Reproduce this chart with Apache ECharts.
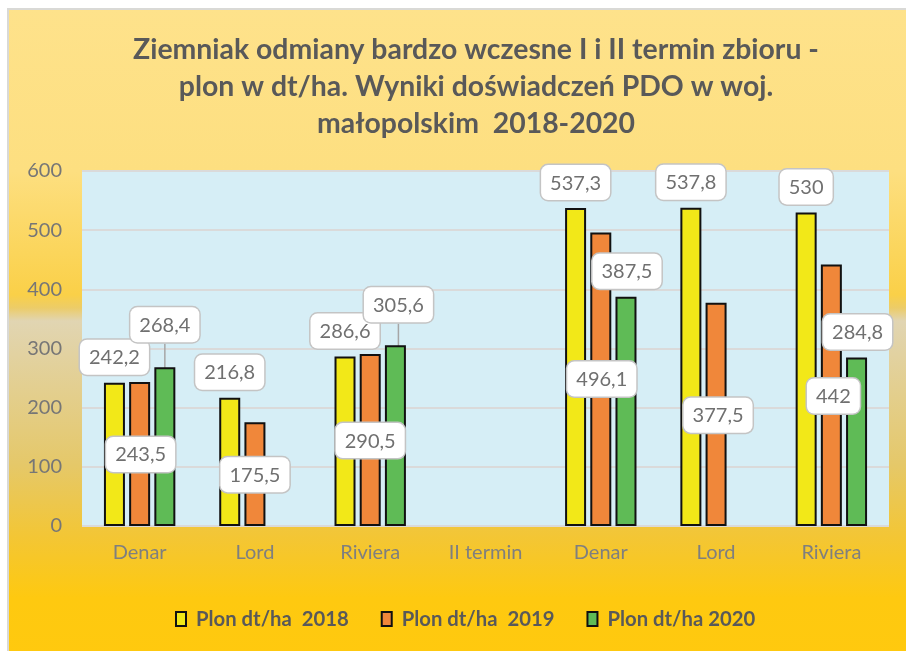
<!DOCTYPE html>
<html>
<head>
<meta charset="utf-8">
<script src="https://cdn.jsdelivr.net/npm/echarts@6/dist/echarts.min.js"></script>
<style>
  html, body { margin: 0; padding: 0; background: #fff; }
  #chart { width: 906px; height: 651px; }
</style>
</head>
<body>
<div id="chart"></div>
<script>
var categories = ['Denar', 'Lord', 'Riviera', 'II termin', 'Denar', 'Lord', 'Riviera'];
var plon2018 = [242.2, 216.8, 286.6, null, 537.3, 537.8, 530];
var plon2019 = [243.5, 175.5, 290.5, null, 496.1, 377.5, 442];
var plon2020 = [268.4, null, 305.6, null, 387.5, null, 284.8];
var seriesNames = ['Plon dt/ha  2018', 'Plon dt/ha  2019', 'Plon dt/ha 2020'];
var yTicks = [0, 100, 200, 300, 400, 500, 600];

// where Excel dragged the labels (pixels, relative to default "top" spot)
var labelShift = [
    [[0, 0], [0, 0], [0, 0], [0, 0], [0, 0], [0, 0], [0, 0]],
    [[1, 98], [0, 78], [0, 112], [0, 0], [1, 172], [2, 138], [2, 157]],
    [[0, -17], [0, 0], [3, -15], [0, 0], [1, 0], [0, 0], [1, 0]]
];
var withLeader = [[], [], [0, 2]];

var colors = ['#F2E818', '#F0873A', '#5FBB56'];
var font = 'Lato, Carlito, "Open Sans", sans-serif';

function fmt(p) {
    return String(p.value).replace('.', ',');
}

var chart = echarts.init(document.getElementById('chart'));

var series = [plon2018, plon2019, plon2020].map(function (vals, si) {
    return {
        name: seriesNames[si],
        type: 'bar',
        barWidth: 21,
        barGap: '20%',
        itemStyle: { color: colors[si], borderColor: '#111', borderWidth: 2 },
        label: {
            show: true,
            position: 'top',
            distance: 8,
            formatter: fmt,
            color: '#707070',
            fontSize: 20,
            fontFamily: font,
            backgroundColor: '#fff',
            borderColor: '#C4C4C4',
            borderWidth: 1.5,
            borderRadius: 7,
            padding: [8, 9, 7, 9]
        },
        labelLine: { show: withLeader[si].length > 0, lineStyle: { color: '#A6A6A6', width: 1.5 } },
        labelLayout: function (p) {
            var s = labelShift[si][p.dataIndex];
            return { dx: s[0], dy: s[1] };
        },
        data: vals.map(function (v, i) {
            return {
                value: v,
                labelLine: { show: withLeader[si].indexOf(i) >= 0 }
            };
        })
    };
});

chart.setOption({
    animation: false,
    graphic: [{
        type: 'rect',
        z: -10,
        shape: { x: 8, y: 9, width: 910, height: 650 },
        style: {
            stroke: '#D9D9D6',
            lineWidth: 2,
            fill: new echarts.graphic.LinearGradient(0, 0, 0, 1, [
                { offset: 0, color: '#FEE28B' },
                { offset: 0.25, color: '#FDDF80' },
                { offset: 0.44, color: '#FAD048' },
                { offset: 0.46, color: '#ECCC68' },
                { offset: 0.48, color: '#E1D5B2' },
                { offset: 0.70, color: '#E5C869' },
                { offset: 0.81, color: '#F3C635' },
                { offset: 0.905, color: '#FEC910' },
                { offset: 1, color: '#FFC90E' }
            ])
        }
    }],
    title: {
        text: 'Ziemniak odmiany bardzo wczesne I i II termin zbioru -\nplon w dt/ha. Wyniki doświadczeń PDO w woj.\nmałopolskim  2018-2020',
        left: 471,
        top: 26,
        textAlign: 'center',
        textStyle: {
            fontFamily: font,
            fontWeight: 'bold',
            fontSize: 28.4,
            lineHeight: 37,
            color: '#595959'
        }
    },
    legend: {
        left: 170,
        top: 604,
        itemWidth: 10,
        itemHeight: 14,
        itemGap: 32,
        icon: 'rect',
        textStyle: {
            fontFamily: font,
            fontWeight: 'bold',
            fontSize: 20.3,
            color: '#595959',
            padding: [0, 0, 0, 5]
        }
    },
    grid: {
        left: 82,
        right: 17,
        top: 171,
        bottom: 125,
        show: true,
        backgroundColor: '#D6EEF6',
        borderWidth: 0
    },
    xAxis: {
        type: 'category',
        data: categories,
        axisLine: { show: false },
        axisTick: { show: false },
        axisLabel: { color: '#7F7F7F', fontSize: 20, fontFamily: font, margin: 17 }
    },
    yAxis: {
        type: 'value',
        min: yTicks[0],
        max: yTicks[yTicks.length - 1],
        interval: yTicks[1] - yTicks[0],
        axisLine: { show: false },
        axisTick: { show: false },
        axisLabel: { color: '#767676', fontSize: 20, fontFamily: font, margin: 20 },
        splitLine: { lineStyle: { color: '#DADADA', width: 2 } }
    },
    series: series
});
</script>
</body>
</html>
